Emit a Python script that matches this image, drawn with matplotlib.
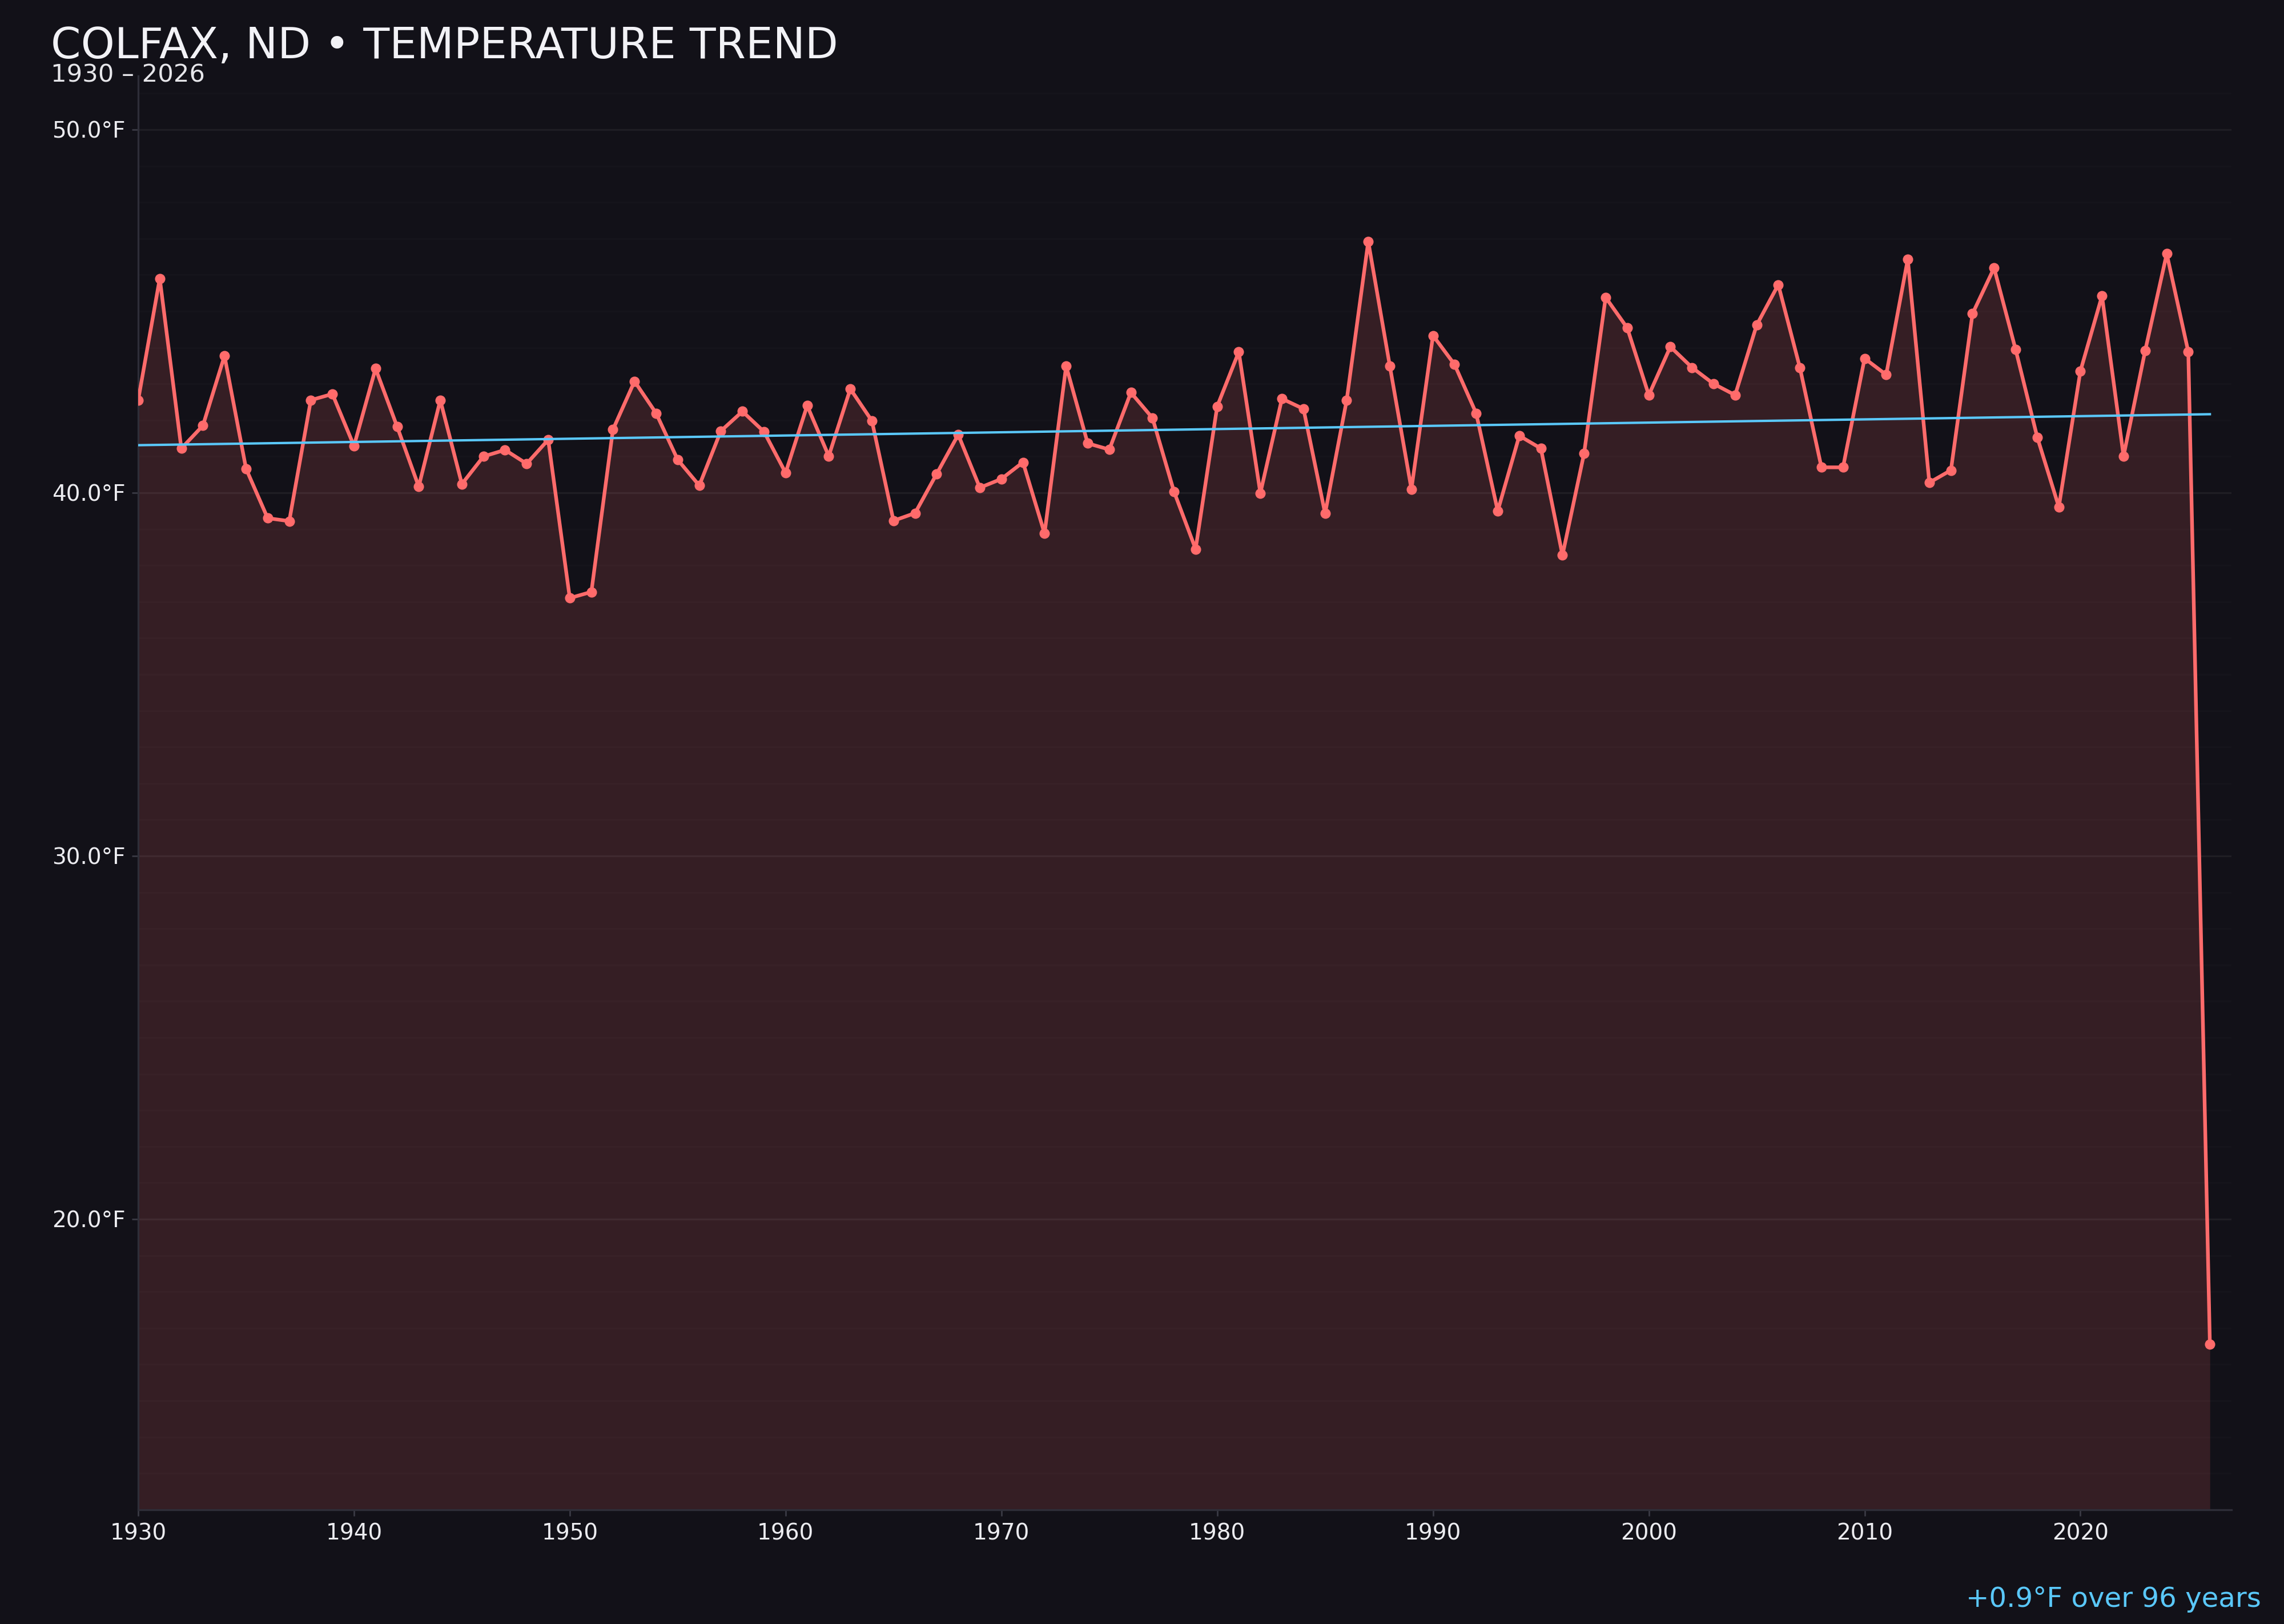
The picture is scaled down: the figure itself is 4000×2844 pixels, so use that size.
import numpy as np
import matplotlib
matplotlib.use("Agg")
import matplotlib.pyplot as plt
from matplotlib.ticker import MultipleLocator, FuncFormatter

# annual mean temperature, Colfax ND
years = list(range(1930, 2027))
temps = [
    42.55, 45.90, 41.22, 41.85, 43.77, 40.66, 39.30, 39.22, 42.55, 42.72,
    41.29, 43.42, 41.82, 40.17, 42.55, 40.24, 41.00, 41.18, 40.80, 41.46,
    37.10, 37.27, 41.74, 43.07, 42.19, 40.91, 40.20, 41.70, 42.24, 41.68,
    40.55, 42.40, 41.01, 42.86, 41.98, 39.23, 39.44, 40.52, 41.60, 40.14,
    40.38, 40.84, 38.88, 43.49, 41.36, 41.19, 42.76, 42.06, 40.03, 38.45,
    42.38, 43.88, 39.99, 42.59, 42.31, 39.43, 42.55, 46.92, 43.49, 40.10,
    44.33, 43.53, 42.19, 39.50, 41.57, 41.22, 38.28, 41.08, 45.38, 44.54,
    42.69, 44.02, 43.45, 43.00, 42.69, 44.62, 45.73, 43.45, 40.70, 40.70,
    43.70, 43.25, 46.43, 40.28, 40.62, 44.93, 46.19, 43.94, 41.53, 39.61,
    43.35, 45.42, 41.01, 43.91, 46.58, 43.88, 16.55,
]
title = "COLFAX, ND \u2022 TEMPERATURE TREND"
subtitle = "1930 \u2013 2026"
trend_note = "+0.9\u00b0F over 96 years"

bg = "#121118"
red = "#ff6b6b"
blue = "#5ac8fa"

x = np.array(years)
y = np.array(temps)

fig = plt.figure(figsize=(20, 14.22), dpi=200, facecolor=bg)
ax = fig.add_axes([0.0605, 0.0703, 0.9165, 0.8829])
ax.set_facecolor(bg)

rng = y.max() - y.min()
ymin = y.min() - 0.15 * rng
ymax = y.max() + 0.15 * rng

ax.fill_between(x, y, ymin, color=red, alpha=0.15, linewidth=0, zorder=1)
ax.plot(x, y, color=red, linewidth=2.3, marker="o", markersize=5.5, zorder=3)

slope, icpt = np.polyfit(x, y, 1)
ax.plot(x, slope * x + icpt, color=blue, linewidth=1.5, zorder=4)

ax.set_xlim(1930, 2027)
ax.set_ylim(ymin, ymax)

ax.yaxis.set_major_locator(MultipleLocator(10))
ax.yaxis.set_minor_locator(MultipleLocator(1))
ax.yaxis.set_major_formatter(FuncFormatter(lambda v, p: f"{v:.1f}\u00b0F"))
ax.xaxis.set_major_locator(MultipleLocator(10))

ax.grid(axis="y", which="major", color="white", alpha=0.055, linewidth=1.2, zorder=2)
ax.grid(axis="y", which="minor", color="white", alpha=0.014, linewidth=1.0, zorder=2)
ax.tick_params(axis="y", which="minor", length=0)
ax.tick_params(axis="both", which="major", colors="#3a3a44", labelcolor="#ececf0",
               labelsize=14, length=4, width=1, pad=4)

for s in ["top", "right"]:
    ax.spines[s].set_visible(False)
for s in ["left", "bottom"]:
    ax.spines[s].set_color("#2e2e38")
    ax.spines[s].set_linewidth(1.2)

fig.text(0.0222, 0.9641, title, color="#f2f2f6", fontsize=27.1, va="baseline", ha="left")
fig.text(0.0222, 0.9494, subtitle, color="#e6e6ea", fontsize=15.6, va="baseline", ha="left")
fig.text(0.99, 0.0105, trend_note, color=blue, fontsize=17.4, va="baseline", ha="right")

fig.savefig("out.png", dpi=200, facecolor=bg)
